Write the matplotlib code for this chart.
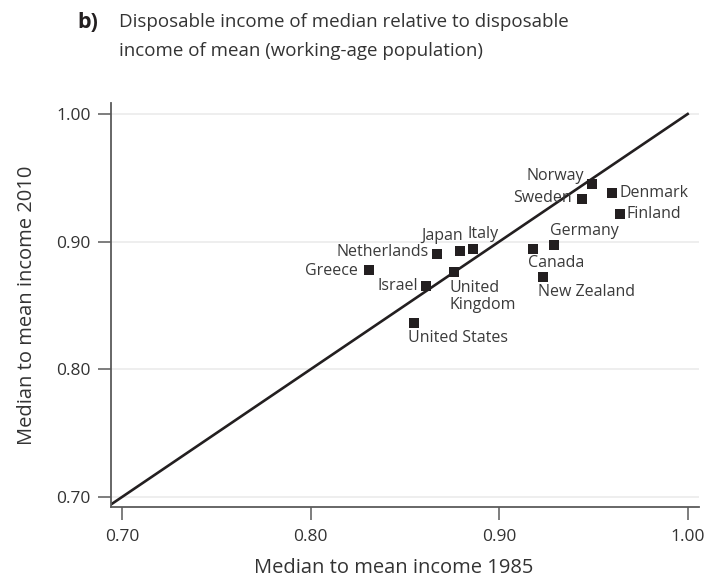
import matplotlib.pyplot as plt

plt.rcParams['font.family'] = ['Open Sans', 'DejaVu Sans']

# Median-to-mean disposable income ratios, working-age population
countries = ['Norway', 'Sweden', 'Denmark', 'Finland', 'Germany', 'Canada',
             'New Zealand', 'Italy', 'Japan', 'Netherlands', 'Greece',
             'Israel', 'United\nKingdom', 'United States']
ratio_1985 = [0.949, 0.944, 0.960, 0.964, 0.929, 0.918, 0.923, 0.886,
              0.879, 0.867, 0.831, 0.861, 0.876, 0.855]
ratio_2010 = [0.945, 0.933, 0.938, 0.922, 0.897, 0.894, 0.872, 0.894,
              0.893, 0.890, 0.878, 0.865, 0.876, 0.836]

# label placement: (dx, dy) in pixels, horizontal / vertical alignment
label_pos = {
    'Norway': (-8, 8, 'right', 'center'),
    'Sweden': (-10, 1, 'right', 'center'),
    'Denmark': (7, 0, 'left', 'center'),
    'Finland': (7, 0, 'left', 'center'),
    'Germany': (-4, 14, 'left', 'center'),
    'Canada': (-5, -14, 'left', 'center'),
    'New Zealand': (-5, -15, 'left', 'center'),
    'Italy': (-5, 15, 'left', 'center'),
    'Japan': (3, 15, 'right', 'center'),
    'Netherlands': (-8, 2, 'right', 'center'),
    'Greece': (-11, -1, 'right', 'center'),
    'Israel': (-8, 0, 'right', 'center'),
    'United\nKingdom': (-4, -8, 'left', 'top'),
    'United States': (-6, -15, 'left', 'center'),
}

ink = '#231f20'
axis_grey = '#5a5a5a'

fig = plt.figure(figsize=(7.1, 5.84), dpi=100)
ax = fig.add_axes([0.1563, 0.1318, 0.8282, 0.6918])

ax.plot([0.694, 1.0], [0.694, 1.0], color=ink, lw=1.9, zorder=2)
ax.scatter(ratio_1985, ratio_2010, marker='s', s=52, color=ink,
           linewidths=0, zorder=3)

for name, x, y in zip(countries, ratio_1985, ratio_2010):
    dx, dy, ha, va = label_pos[name]
    ax.annotate(name, (x, y), xytext=(dx, dy), textcoords='offset pixels',
                ha=ha, va=va, fontsize=11.5, color='#3a3a3a',
                linespacing=1.05)

ax.set_xlim(0.694, 1.006)
ax.set_ylim(0.692, 1.0086)
ax.set_xticks([0.70, 0.80, 0.90, 1.00])
ax.set_yticks([0.70, 0.80, 0.90, 1.00])
ax.set_xticklabels(['0.70', '0.80', '0.90', '1.00'])
ax.set_yticklabels(['0.70', '0.80', '0.90', '1.00'])
ax.tick_params(length=9.5, width=1.1, color=axis_grey, labelsize=12.5,
               labelcolor='#333333')
ax.tick_params(axis='x', pad=6)
ax.tick_params(axis='y', pad=5)
ax.yaxis.grid(True, color='#ebebeb', lw=1.2, zorder=0)
ax.set_axisbelow(True)

for side in ['top', 'right']:
    ax.spines[side].set_visible(False)
for side in ['left', 'bottom']:
    ax.spines[side].set_color(axis_grey)
    ax.spines[side].set_linewidth(1.3)

ax.set_xlabel('Median to mean income 1985', fontsize=14.5, color='#333333')
ax.set_ylabel('Median to mean income 2010', fontsize=14.5, color='#333333')
ax.xaxis.set_label_coords(0.48, -0.125)
ax.yaxis.set_label_coords(-0.125, 0.5)

fig.text(77 / 710, 1 - 22 / 584, 'b)', fontsize=15.5, fontweight='bold',
         color=ink, va='center')
fig.text(119 / 710, 1 - 22 / 584, 'Disposable income of median relative to disposable',
         fontsize=13.5, color='#333333', va='center')
fig.text(119 / 710, 1 - 51 / 584, 'income of mean (working-age population)',
         fontsize=13.5, color='#333333', va='center')

fig.savefig('out.png', dpi=100)
